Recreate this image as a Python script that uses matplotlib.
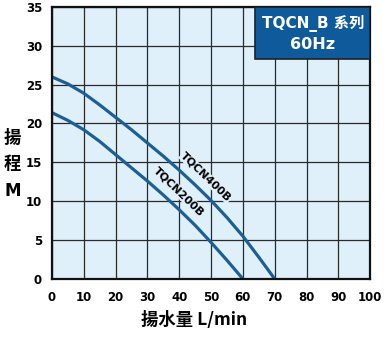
import numpy as np
import matplotlib.pyplot as plt
from matplotlib.patches import Rectangle

plt.rcParams['font.family'] = ['DejaVu Sans', 'Noto Sans CJK TC']

# 流量 (L/min) - 揚程 (M)
flow_400 = [0, 5, 10, 15, 20, 25, 30, 35, 40, 45, 50, 55, 60, 65, 70]
head_400 = [26.0, 25.1, 23.9, 22.4, 20.8, 19.2, 17.5, 15.8, 14.0, 12.1,
            10.1, 7.9, 5.5, 2.8, 0.0]

flow_200 = [0, 5, 10, 15, 20, 25, 30, 35, 40, 45, 50, 55, 60]
head_200 = [21.4, 20.4, 19.2, 17.7, 16.0, 14.3, 12.6, 10.8, 8.9, 6.9,
            4.7, 2.4, 0.0]

x_ticks = list(range(0, 101, 10))
y_ticks = list(range(0, 36, 5))

line_color = '#1b5f96'
box_color = '#0f5a9a'
bg_color = '#dff0fa'

fig = plt.figure(figsize=(3.84, 3.46), dpi=100)
ax = fig.add_axes([0.135, 0.194, 0.829, 0.786])
ax.set_facecolor(bg_color)

ax.plot(flow_400, head_400, color=line_color, lw=2.3, solid_capstyle='butt')
ax.plot(flow_200, head_200, color=line_color, lw=2.3, solid_capstyle='butt')

ax.set_xlim(0, 100)
ax.set_ylim(0, 35)
ax.set_xticks(x_ticks)
ax.set_yticks(y_ticks)
ax.grid(True, color='#2a2a2a', lw=0.9)
ax.set_axisbelow(True)
ax.tick_params(length=0, labelsize=8.5)
ax.tick_params(axis='x', pad=9)
ax.tick_params(axis='y', pad=7)
for lab in ax.get_xticklabels() + ax.get_yticklabels():
    lab.set_fontweight('bold')
for sp in ax.spines.values():
    sp.set_linewidth(1.6)
    sp.set_color('#111111')

ax.text(48.4, 13.1, 'TQCN400B', rotation=-44, ha='center', va='center',
        fontsize=8, fontweight='bold',
        bbox=dict(facecolor=bg_color, edgecolor='none', pad=0.3))
ax.text(40, 11.2, 'TQCN200B', rotation=-44, ha='center', va='center',
        fontsize=8, fontweight='bold',
        bbox=dict(facecolor=bg_color, edgecolor='none', pad=0.3))

# 標題框
ax.add_patch(Rectangle((0.638, 0.809), 0.362, 0.191, transform=ax.transAxes,
                       facecolor=box_color, edgecolor='#222222', lw=1.2,
                       zorder=5))
ax.text(0.82, 0.938, 'TQCN_B 系列', transform=ax.transAxes,
        ha='center', va='center', color='white', fontsize=11,
        fontweight='bold', zorder=6,
        family=['DejaVu Sans', 'Noto Sans CJK TC'])
ax.text(0.82, 0.862, '60Hz', transform=ax.transAxes,
        ha='center', va='center', color='white', fontsize=11.5,
        fontweight='bold', zorder=6)

cjk = ['Noto Sans CJK TC', 'DejaVu Sans']
fig.text(0.033, 1 - 138 / 346, '揚', ha='center', va='center', fontsize=12.5,
         fontweight='bold', family=cjk)
fig.text(0.033, 1 - 164 / 346, '程', ha='center', va='center', fontsize=12.5,
         fontweight='bold', family=cjk)
fig.text(0.033, 1 - 191 / 346, 'M', ha='center', va='center', fontsize=12,
         fontweight='bold', family=['DejaVu Sans'])
fig.text(0.505, 1 - 320 / 346, '揚水量 L/min', ha='center', va='center',
         fontsize=12.5, fontweight='bold', family=cjk)

plt.savefig('out.png', dpi=100)
